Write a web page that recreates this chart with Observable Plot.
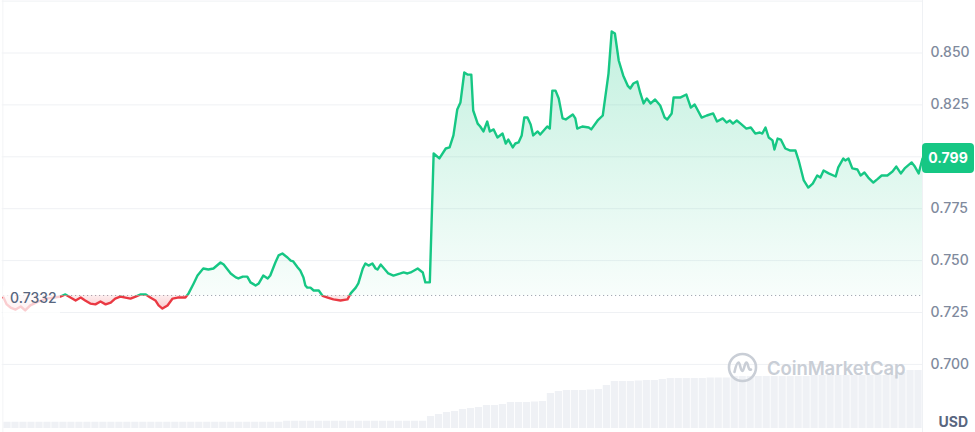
<!DOCTYPE html>
<html><head><meta charset="utf-8">
<script src="https://cdn.jsdelivr.net/npm/d3@7"></script>
<script src="https://cdn.jsdelivr.net/npm/@observablehq/plot@0.6"></script>
<style>
body{margin:0;background:#fff;font-family:Inter,"Noto Sans",sans-serif;}
#wrap{position:relative;width:975px;height:432px;overflow:hidden;background:#fff;}
#wrap svg{position:absolute;left:0;top:0;}
.ov{position:absolute;white-space:nowrap;font-family:Inter,sans-serif;box-sizing:border-box;}
</style></head><body><div id="wrap"></div>
<script>
// time (minutes since start of 24h window)
const minutes = [
0,5,11,19,27,34,42,55,67,80,
89,97,105,113,121,128,136,144,152,160,
168,175,183,191,199,207,215,223,230,238,
243,249,257,265,273,285,290,298,304,313,
321,329,340,345,356,364,368,375,382,387,
395,400,407,414,418,426,431,437,445,450,
454,461,465,470,473,476,481,486,494,500,
508,517,528,539,544,552,556,563,567,572,
578,583,586,591,595,603,611,622,627,633,
638,649,657,661,668,674,683,693,699,705,
711,716,722,727,733,736,743,747,752,758,
762,768,774,782,787,791,798,802,807,812,
816,821,826,830,837,841,852,856,860,865,
870,876,881,892,896,899,907,917,921,931,
939,948,953,958,964,971,978,982,987,993,
998,1003,1008,1014,1021,1029,1036,1040,1047,1050,
1061,1070,1077,1083,1094,1102,1112,1118,1127,1133,
1138,1143,1149,1155,1164,1171,1178,1185,1189,1194,
1199,1205,1208,1213,1218,1225,1233,1241,1246,1254,
1261,1268,1275,1280,1285,1293,1304,1308,1316,1319,
1324,1330,1338,1343,1349,1355,1363,1369,1376,1385,
1393,1399,1406,1412,1423,1428,1434,1440];
// price in USD
const prices = [
0.7322,0.7289,0.7274,0.7264,0.7279,0.7260,0.7284,0.7303,0.7317,0.7322,
0.7327,0.7337,0.7322,0.7308,0.7322,0.7308,0.7293,0.7289,0.7303,0.7289,
0.7298,0.7317,0.7327,0.7322,0.7317,0.7327,0.7337,0.7337,0.7322,0.7308,
0.7284,0.7269,0.7284,0.7317,0.7322,0.7322,0.7342,0.7390,0.7428,0.7462,
0.7457,0.7462,0.7491,0.7481,0.7438,0.7419,0.7414,0.7423,0.7423,0.7395,
0.7380,0.7390,0.7428,0.7414,0.7428,0.7491,0.7525,0.7534,0.7515,0.7500,
0.7496,0.7467,0.7452,0.7419,0.7380,0.7370,0.7370,0.7356,0.7356,0.7330,
0.7322,0.7313,0.7308,0.7313,0.7342,0.7370,0.7390,0.7462,0.7486,0.7476,
0.7486,0.7462,0.7457,0.7481,0.7467,0.7438,0.7428,0.7438,0.7443,0.7438,
0.7443,0.7462,0.7443,0.7395,0.7395,0.8016,0.7992,0.8040,0.8045,0.8103,
0.8228,0.8262,0.8406,0.8396,0.8396,0.8223,0.8160,0.8146,0.8122,0.8170,
0.8122,0.8132,0.8093,0.8112,0.8064,0.8083,0.8045,0.8064,0.8069,0.8103,
0.8189,0.8189,0.8156,0.8103,0.8122,0.8107,0.8146,0.8136,0.8319,0.8319,
0.8281,0.8185,0.8180,0.8204,0.8185,0.8136,0.8146,0.8141,0.8132,0.8175,
0.8199,0.8401,0.8604,0.8594,0.8464,0.8392,0.8343,0.8329,0.8353,0.8363,
0.8305,0.8257,0.8281,0.8257,0.8276,0.8247,0.8189,0.8180,0.8209,0.8286,
0.8286,0.8300,0.8237,0.8252,0.8189,0.8199,0.8209,0.8170,0.8185,0.8165,
0.8175,0.8160,0.8175,0.8160,0.8136,0.8141,0.8112,0.8117,0.8112,0.8141,
0.8093,0.8079,0.8035,0.8088,0.8083,0.8040,0.8030,0.8030,0.7982,0.7886,
0.7852,0.7871,0.7910,0.7900,0.7934,0.7920,0.7905,0.7949,0.7992,0.7982,
0.7992,0.7944,0.7939,0.7910,0.7924,0.7900,0.7876,0.7891,0.7910,0.7910,
0.7929,0.7953,0.7920,0.7944,0.7973,0.7953,0.7920,0.7992];
// volume bars (millions USD), one per equal time slot
const volumes = [
1.25,1.25,1.25,1.25,1.25,1.25,1.25,1.25,1.25,1.25,
1.25,1.25,1.25,1.25,1.25,1.25,1.25,1.25,1.25,1.25,
1.25,1.25,1.25,1.25,1.25,1.25,1.25,1.25,1.25,1.25,
1.25,1.25,1.25,1.25,1.25,
1.45,1.45,1.45,1.45,1.45,1.45,1.45,1.45,1.45,1.45,
1.45,1.45,1.45,1.45,1.45,1.45,1.45,1.45,
2.4,2.8,3.2,3.4,3.8,4.0,4.2,4.6,4.6,4.8,
5.2,5.2,5.2,5.3,5.4,7.0,7.4,7.6,7.6,7.6,
7.7,7.8,8.6,9.4,9.4,9.4,9.5,9.6,9.6,9.8,
10.0,10.0,10.0,10.0,10.0,10.1,10.1,10.1,10.4,10.4,
10.4,10.4,10.4,10.4,10.4,10.4,10.4,10.4,10.6,10.6,
10.6,10.6,10.6,10.6,10.6,10.6,10.6,10.6,10.6,11.2,
11.6,11.6];
const openPrice = 0.7332;
const gridValues = [0.700,0.725,0.750,0.775,0.800,0.825,0.850,0.875];
const tickLabels = [0.700,0.725,0.750,0.775,0.825,0.850];
const currency = "USD";
const brand = "CoinMarketCap";

const W = 975, H = 432;
const green = "#16c784", red = "#ea3943";
const data = minutes.map((t, i) => ({t, p: prices[i]}));
const volData = volumes.map((v, i) => ({i, v}));
const wrap = document.getElementById("wrap");

const volPlot = Plot.plot({
  width: W, height: H, margin: 0,
  x: {domain: [0, volumes.length], range: [3, 922], axis: null},
  y: {domain: [0, 12], range: [428, 368], axis: null},
  style: {background: "transparent"},
  marks: [
    Plot.rectY(volData, {x1: "i", x2: d => d.i + 1, y: "v", fill: "#eff1f5", insetLeft: 0.4, insetRight: 0.4})
  ]
});
wrap.appendChild(volPlot);

const main = Plot.plot({
  width: W, height: H, margin: 0,
  x: {domain: [0, 1440], range: [3, 922], axis: null},
  y: {domain: [0.725, 0.850], range: [312, 52.5], axis: null},
  style: {background: "transparent", overflow: "visible"},
  marks: [
    Plot.ruleY(gridValues, {x1: -2, x2: 1440, stroke: "#eff1f4", strokeWidth: 1}),
    Plot.ruleX([1440], {stroke: "#eff1f4", strokeWidth: 1}),
    Plot.ruleX([-1], {stroke: "#f3f4f6", strokeWidth: 1}),
    Plot.ruleY([openPrice], {x1: 0, x2: 1440, stroke: "#a3a9b3", strokeDasharray: "1.2,2.8", strokeWidth: 1}),
    Plot.areaY(data, {x: "t", y1: openPrice, y2: "p", fill: "url(#gUp)"}),
    Plot.areaY(data, {x: "t", y1: openPrice, y2: "p", fill: "url(#gDown)"}),
    Plot.line(data, {x: "t", y: "p", stroke: green, strokeWidth: 2.4, strokeLinejoin: "round"}),
    Plot.line(data, {x: "t", y: "p", stroke: red, strokeWidth: 2.4, strokeLinejoin: "round"}),
    Plot.text(tickLabels, {x: 1440, y: d => d, text: d => d.toFixed(3), dx: 8, textAnchor: "start",
      fill: "#808a9d", fontSize: 14, fontWeight: 500, fontFamily: "Inter"})
  ]
});
wrap.appendChild(main);

const ys = main.scale("y");
const yb = ys.apply(openPrice);
const yTop = ys.apply(d3.max(prices));
const s = d3.select(main);
const defs = s.insert("defs", ":first-child");
defs.append("clipPath").attr("id", "clipUp").append("rect")
  .attr("x", -5).attr("y", -10).attr("width", W + 10).attr("height", yb + 10);
defs.append("clipPath").attr("id", "clipDown").append("rect")
  .attr("x", -5).attr("y", yb).attr("width", W + 10).attr("height", H - yb);
const gu = defs.append("linearGradient").attr("id", "gUp").attr("gradientUnits", "userSpaceOnUse")
  .attr("x1", 0).attr("x2", 0).attr("y1", yTop).attr("y2", yb);
gu.append("stop").attr("offset", 0).attr("stop-color", green).attr("stop-opacity", 0.26);
gu.append("stop").attr("offset", 1).attr("stop-color", green).attr("stop-opacity", 0.03);
const gd = defs.append("linearGradient").attr("id", "gDown").attr("gradientUnits", "userSpaceOnUse")
  .attr("x1", 0).attr("x2", 0).attr("y1", yb).attr("y2", yb + 16);
gd.append("stop").attr("offset", 0).attr("stop-color", red).attr("stop-opacity", 0.08);
gd.append("stop").attr("offset", 1).attr("stop-color", red).attr("stop-opacity", 0.3);
const areas = main.querySelectorAll('g[aria-label="area"]');
areas[0].setAttribute("clip-path", "url(#clipUp)");
areas[1].setAttribute("clip-path", "url(#clipDown)");
const lines = main.querySelectorAll('g[aria-label="line"]');
lines[0].setAttribute("clip-path", "url(#clipUp)");
lines[1].setAttribute("clip-path", "url(#clipDown)");

// open price label (translucent box over the line)
const ol = document.createElement("div");
ol.className = "ov";
ol.textContent = String(openPrice);
Object.assign(ol.style, {left: "3px", top: (yb - 9) + "px", width: "57px", height: "31px", lineHeight: "20px",
  padding: "2px 0 0 7px", background: "rgba(255,255,255,0.75)", color: "#58667e", fontSize: "14px", fontWeight: "500"});
wrap.appendChild(ol);

// last price badge
const last = prices[prices.length - 1];
const yl = ys.apply(last);
const badge = document.createElement("div");
badge.className = "ov";
badge.textContent = last.toFixed(3);
Object.assign(badge.style, {left: "922px", top: (yl - 15) + "px", width: "52px", height: "30px", lineHeight: "30px",
  textAlign: "center", background: green, color: "#fff", fontSize: "14px", fontWeight: "700", borderRadius: "4px"});
wrap.appendChild(badge);

// currency label
const cur = document.createElement("div");
cur.className = "ov";
cur.textContent = currency;
Object.assign(cur.style, {right: "7px", top: "413px", color: "#58667e", fontSize: "14px", fontWeight: "700"});
wrap.appendChild(cur);

// watermark
const wm = document.createElement("div");
wm.className = "ov";
Object.assign(wm.style, {left: "727px", top: "352px", display: "flex", alignItems: "center", gap: "9px", color: "#c9ced6"});
wm.innerHTML = '<svg width="31" height="31" viewBox="0 0 31 31" style="position:static"><circle cx="15.5" cy="15.5" r="13.5" fill="none" stroke="#c9ced6" stroke-width="2.6"/><path d="M7.5 20 C9 13 10 10.5 11.5 10.5 C13.2 10.5 13.4 19 15.3 19 C17.2 19 17.5 10.5 19.4 10.5 C21.3 10.5 21 19 24 17.5" fill="none" stroke="#c9ced6" stroke-width="2.6" stroke-linecap="round"/></svg>';
const wt = document.createElement("span");
wt.textContent = brand;
Object.assign(wt.style, {fontSize: "18.5px", fontWeight: "600", letterSpacing: "-0.1px"});
wm.appendChild(wt);
wrap.appendChild(wm);
</script></body></html>
